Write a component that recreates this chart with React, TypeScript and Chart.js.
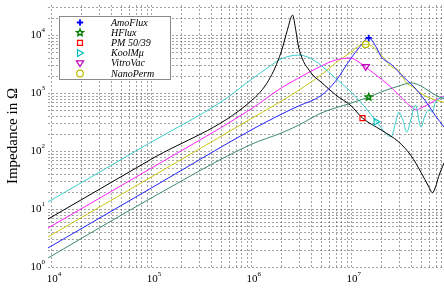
import React, { useEffect, useRef } from "react";
import { Chart, registerables } from "chart.js";

Chart.register(...registerables);

const SERIF = '"Liberation Serif", "Times New Roman", serif';

// Impedance sweeps: frequency in Hz, impedance in Ω
const amoFluxFreq = [9300, 1e5, 1e6, 2e6, 3e6, 5e6, 7e6, 1e7, 1.2e7, 1.5e7, 1.8e7, 2e7, 2.5e7, 3e7, 3.6e7, 4e7, 5e7, 6e7, 7e7, 8.5e7];
const amoFluxZ = [2.13, 22.9, 230, 430, 600, 900, 1600, 4000, 6000, 8900, 6000, 4200, 3160, 2300, 1670, 1430, 920, 600, 400, 260];

const hFluxFreq = [9300, 1e5, 1e6, 2e6, 3e6, 5e6, 1e7, 1.5e7, 2e7, 3e7, 4e7, 5e7, 6e7, 7e7, 8.5e7];
const hFluxZ = [1.43, 15.4, 130, 204, 280, 450, 670, 850, 1040, 1320, 1490, 1320, 1080, 920, 790];

const pm5039Freq = [9300, 1e5, 1e6, 1.5e6, 2e6, 2.3e6, 2.6e6, 2.8e6, 3e6, 4e6, 5e6, 7e6, 1e7, 1.3e7, 2e7, 3e7, 4e7, 5e7, 6e7, 6.5e7, 7e7, 7.5e7, 8.5e7];
const pm5039Z = [6.7, 72, 730, 1660, 5100, 12000, 22000, 12000, 6000, 2200, 1550, 930, 600, 370, 230, 143, 82, 43, 24, 19, 24, 36, 62];

const koolMuFreq = [9300, 1e5, 5e5, 1e6, 1.5e6, 2e6, 3e6, 4e6, 5e6, 7e6, 1e7, 1.4e7, 1.8e7, 2.2e7, 2.5e7, 2.8e7, 3e7, 3.3e7, 3.6e7, 4e7, 4.4e7, 5e7, 5.5e7, 6e7, 6.5e7, 7e7, 8.5e7];
const koolMuZ = [13.2, 142, 700, 1700, 2800, 3870, 4500, 3900, 3000, 1800, 1040, 550, 320, 205, 174, 316, 470, 340, 212, 370, 620, 260, 415, 510, 470, 700, 850];

const vitroVacFreq = [9300, 1e5, 1e6, 2e6, 3e6, 5e6, 7e6, 1e7, 1.2e7, 1.4e7, 2e7, 2.5e7, 3e7, 3.6e7, 4e7, 4.5e7, 5e7, 6e7, 7e7, 8.5e7];
const vitroVacZ = [4.7, 50.5, 530, 1220, 1820, 2900, 3700, 4000, 3400, 2800, 1740, 1260, 920, 670, 570, 510, 550, 645, 755, 880];

const nanoPermFreq = [9300, 1e5, 1e6, 2e6, 3e6, 5e6, 7e6, 1e7, 1.2e7, 1.4e7, 1.6e7, 2e7, 2.5e7, 3e7, 3.6e7, 4e7, 5.5e7, 8.5e7];
const nanoPermZ = [3.3, 35.5, 360, 720, 1120, 2040, 3300, 5100, 6500, 6900, 6500, 4500, 2900, 2400, 1490, 1320, 890, 690];

// Legend order
const seriesNames = ["AmoFlux", "HFlux", "PM 50/39", "KoolMμ", "VitroVac", "NanoPerm"];
// Frequency at which each curve carries its legend symbol
const markerFreqs = [1.5e7, 1.5e7, 1.3e7, 1.8e7, 1.4e7, 1.4e7];

// Axis decades (exponents of ten)
const xDecades = [4, 5, 6, 7];
const yDecades = [0, 1, 2, 3, 4];
const X_MIN = 9300;
const X_MAX = 8.5e7;
const Y_MIN = 1;
const Y_MAX = 32900;

type Marker = "plus" | "star" | "square" | "triRight" | "triDown" | "circle";

const seriesStyle: { line: string; marker: string; shape: Marker }[] = [
  { line: "#2323ff", marker: "#0000ff", shape: "plus" },
  { line: "#3d8b6e", marker: "#008000", shape: "star" },
  { line: "#000000", marker: "#ff0000", shape: "square" },
  { line: "#3ccccc", marker: "#00bfbf", shape: "triRight" },
  { line: "#ff22ff", marker: "#bf00bf", shape: "triDown" },
  { line: "#c8c814", marker: "#bfbf00", shape: "circle" },
];

const seriesData = [
  [amoFluxFreq, amoFluxZ],
  [hFluxFreq, hFluxZ],
  [pm5039Freq, pm5039Z],
  [koolMuFreq, koolMuZ],
  [vitroVacFreq, vitroVacZ],
  [nanoPermFreq, nanoPermZ],
];

function drawMarker(ctx: CanvasRenderingContext2D, shape: Marker, x: number, y: number, color: string) {
  ctx.save();
  ctx.setLineDash([]);
  ctx.strokeStyle = color;
  ctx.lineWidth = 1.2;
  ctx.beginPath();
  switch (shape) {
    case "plus":
      ctx.lineWidth = 1.8;
      ctx.moveTo(x - 3.2, y);
      ctx.lineTo(x + 3.2, y);
      ctx.moveTo(x, y - 3.2);
      ctx.lineTo(x, y + 3.2);
      break;
    case "star": {
      const ro = 3.6;
      const ri = 1.6;
      for (let i = 0; i < 10; i++) {
        const r = i % 2 === 0 ? ro : ri;
        const a = -Math.PI / 2 + (i * Math.PI) / 5;
        const px = x + r * Math.cos(a);
        const py = y + r * Math.sin(a);
        if (i === 0) ctx.moveTo(px, py);
        else ctx.lineTo(px, py);
      }
      ctx.closePath();
      ctx.lineWidth = 1.4;
      break;
    }
    case "square":
      ctx.rect(x - 2.5, y - 2.5, 5, 5);
      break;
    case "triRight":
      ctx.moveTo(x - 2.5, y - 3.3);
      ctx.lineTo(x + 3.3, y);
      ctx.lineTo(x - 2.5, y + 3.3);
      ctx.closePath();
      break;
    case "triDown":
      ctx.moveTo(x - 3.6, y - 2.5);
      ctx.lineTo(x + 3.6, y - 2.5);
      ctx.lineTo(x, y + 3.3);
      ctx.closePath();
      break;
    case "circle":
      ctx.arc(x, y, 3.3, 0, Math.PI * 2);
      break;
  }
  ctx.stroke();
  ctx.restore();
}

// Dotted log grid at 1..9 x 10^n on both axes
const logGrid = {
  id: "logGrid",
  beforeDatasetsDraw(chart: any) {
    const { ctx, chartArea: a, scales } = chart;
    const xs = scales.x;
    const ys = scales.y;
    ctx.save();
    ctx.strokeStyle = "rgba(70,70,70,0.5)";
    ctx.lineWidth = 1;
    ctx.setLineDash([2, 2]);
    ctx.beginPath();
    for (let e = 3; e <= 8; e++) {
      for (let k = 1; k <= 9; k++) {
        const v = k * Math.pow(10, e);
        if (v < X_MIN || v > X_MAX) continue;
        const px = Math.round(xs.getPixelForValue(v)) + 0.5;
        ctx.moveTo(px, a.top);
        ctx.lineTo(px, a.bottom);
      }
    }
    for (let e = 0; e <= 4; e++) {
      for (let k = 1; k <= 9; k++) {
        const v = k * Math.pow(10, e);
        if (v < Y_MIN || v > Y_MAX) continue;
        const py = Math.round(ys.getPixelForValue(v)) + 0.5;
        ctx.moveTo(a.left, py);
        ctx.lineTo(a.right, py);
      }
    }
    ctx.stroke();
    ctx.restore();
  },
};

// Legend symbols on the curves, tick labels with exponents, and the legend box
const decorations = {
  id: "decorations",
  afterDatasetsDraw(chart: any) {
    const { ctx, scales } = chart;
    seriesData.forEach(([f, z], i) => {
      const idx = f.indexOf(markerFreqs[i]);
      if (idx < 0) return;
      const st = seriesStyle[i];
      drawMarker(ctx, st.shape, scales.x.getPixelForValue(f[idx]), scales.y.getPixelForValue(z[idx]), st.marker);
    });
  },
  afterDraw(chart: any) {
    const { ctx, scales, chartArea: a } = chart;
    ctx.save();
    ctx.fillStyle = "#000";
    ctx.textBaseline = "middle";
    // y-axis labels
    yDecades.forEach((e) => {
      const py = scales.y.getPixelForValue(Math.pow(10, e));
      ctx.font = `7px ${SERIF}`;
      const supW = ctx.measureText(String(e)).width;
      ctx.textAlign = "right";
      ctx.fillText(String(e), a.left - 3, py - 5);
      ctx.font = `11px ${SERIF}`;
      ctx.fillText("10", a.left - 3 - supW, py);
    });
    // x-axis labels
    xDecades.forEach((e) => {
      const px = scales.x.getPixelForValue(Math.pow(10, e));
      ctx.font = `11px ${SERIF}`;
      ctx.textAlign = "center";
      ctx.fillText("10", px + 1, a.bottom + 12);
      const w = ctx.measureText("10").width;
      ctx.font = `7px ${SERIF}`;
      ctx.textAlign = "left";
      ctx.fillText(String(e), px + 1 + w / 2, a.bottom + 7);
    });
    // legend
    const lx = 59.5;
    const ly = 16.5;
    const lw = 111;
    const lh = 63;
    ctx.fillStyle = "#fff";
    ctx.fillRect(lx, ly, lw, lh);
    ctx.strokeStyle = "#8a8a8a";
    ctx.lineWidth = 1;
    ctx.strokeRect(lx, ly, lw, lh);
    seriesNames.forEach((name, i) => {
      const y = 22.5 + i * 10.2;
      drawMarker(ctx, seriesStyle[i].shape, 80, y, seriesStyle[i].marker);
      ctx.fillStyle = "#000";
      ctx.font = `italic 10px ${SERIF}`;
      ctx.textAlign = "left";
      ctx.fillText(name, 111, y + 0.5);
    });
    ctx.restore();
  },
};

export default function App() {
  const canvasRef = useRef<HTMLCanvasElement>(null);

  useEffect(() => {
    const canvas = canvasRef.current;
    if (!canvas) return;
    const chart = new Chart(canvas, {
      type: "line",
      data: {
        datasets: seriesData.map(([f, z], i) => ({
          label: seriesNames[i],
          data: f.map((v, j) => ({ x: v, y: z[j] })),
          borderColor: seriesStyle[i].line,
          backgroundColor: seriesStyle[i].line,
          borderWidth: 1,
          pointRadius: 0,
          fill: false,
          cubicInterpolationMode: "monotone" as const,
        })),
      },
      options: {
        animation: false,
        responsive: false,
        maintainAspectRatio: false,
        layout: { padding: { top: 5, right: 0, bottom: 0, left: 0 } },
        plugins: {
          legend: { display: false },
          tooltip: { enabled: false },
        },
        scales: {
          x: {
            type: "logarithmic",
            min: X_MIN,
            max: X_MAX,
            grid: { display: false },
            border: { display: false },
            ticks: { display: false },
            afterFit: (s: any) => {
              s.height = 23;
            },
          },
          y: {
            type: "logarithmic",
            min: Y_MIN,
            max: Y_MAX,
            grid: { display: false },
            border: { display: false },
            ticks: { display: false },
            title: {
              display: true,
              text: "Impedance in Ω",
              color: "#000",
              font: { family: SERIF, size: 15 },
              padding: { top: 4, bottom: 0 },
            },
            afterFit: (s: any) => {
              s.width = 48;
            },
          },
        },
      },
      plugins: [logGrid, decorations],
    });
    return () => chart.destroy();
  }, []);

  return (
    <div style={{ position: "fixed", left: 0, top: 0, width: 444, height: 290, background: "#fff" }}>
      <canvas ref={canvasRef} width={444} height={290} style={{ display: "block", width: 444, height: 290 }} />
    </div>
  );
}
